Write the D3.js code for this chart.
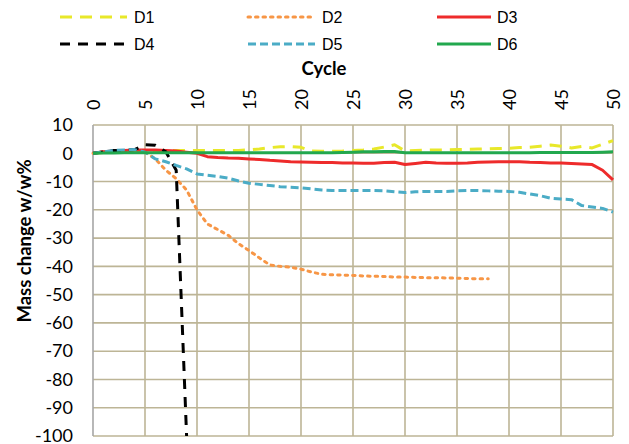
<!DOCTYPE html>
<html>
<head>
<meta charset="utf-8">
<script src="https://cdn.jsdelivr.net/npm/d3@7"></script>
<style>
  body { margin: 0; background: white; }
  text { font-family: Lato, "Liberation Sans", sans-serif; }
</style>
</head>
<body>
<div id="chart"></div>
<script>
// data, one value per cycle
var seriesNames = ["D1", "D2", "D3", "D4", "D5", "D6"];
var d1 = [0, 0.3, 0.5, 0.6, 0.7, 0.8, 1, 1, 1, 1, 1, 1, 1, 1, 1, 1.2, 1.5, 2, 2.3, 2.4,
  2.1, 0.8, 0.7, 0.7, 0.8, 1, 1.2, 1.5, 2.2, 3, 0.8, 1, 1.1, 1.2, 1.2, 1.3, 1.4, 1.5, 1.6, 1.7,
  1.8, 2, 2.1, 2.5, 2.9, 2.5, 1.9, 2.4, 1.9, 3.2, 4.5];
var d2 = [0, 0.5, 0.8, 1, 1, 0.5, -2, -6, -9, -13, -20, -25, -27, -29, -32, -34.4, -37, -39.5, -40, -40.3,
  -41, -42, -42.8, -43, -43.1, -43.2, -43.4, -43.5, -43.6, -43.8, -43.8, -43.9, -44, -44, -44.1, -44.2, -44.3, -44.4, -44.4];
var d3s = [0, 0.5, 0.8, 1, 1.2, 1.2, 1.2, 1, 0.8, 0.4, 0, -1.2, -1.5, -1.7, -1.8, -2, -2.2, -2.5, -2.7, -3,
  -3.1, -3.2, -3.3, -3.3, -3.4, -3.4, -3.5, -3.5, -3.3, -3.2, -4, -3.6, -3.2, -3.4, -3.5, -3.5, -3.4, -3.2, -3.1, -3,
  -3, -3, -3.2, -3.3, -3.4, -3.4, -3.6, -3.8, -4, -6, -9.4];
var d4 = [0, 0.5, 1, 1, 1.3, 3, 2.8, 0.5, -6, -100];
var d5 = [0, 0.5, 1, 1.2, 1.3, 0.4, -2, -3, -4.3, -5.5, -7.3, -7.8, -8.2, -8.8, -9.8, -10.6, -11, -11.4, -11.8, -12,
  -12.2, -12.6, -13, -13.2, -13.2, -13.2, -13.2, -13.2, -13.3, -13.6, -13.9, -13.6, -13.5, -13.5, -13.5, -13.3, -13.2, -13.2, -13.3, -13.4,
  -13.5, -13.8, -14.4, -15, -15.9, -16.2, -16.4, -18.5, -19, -19.5, -20.8];
var d6 = [0, 0.1, 0.1, 0.2, 0.2, 0.2, 0.2, 0.2, 0.2, 0.2, 0.2, 0.2, 0.2, 0.2, 0.2, 0.2, 0.2, 0.2, 0.2, 0.2,
  0.2, 0.2, 0.2, 0.2, 0.3, 0.4, 0.5, 0.5, 0.6, 0.6, 0.2, 0.2, 0.2, 0.2, 0.2, 0.2, 0.2, 0.2, 0.2, 0.2,
  0.2, 0.2, 0.2, 0.3, 0.3, 0.3, 0.3, 0.3, 0.3, 0.4, 0.5];
var xTicks = [0, 5, 10, 15, 20, 25, 30, 35, 40, 45, 50];
var yTicks = [10, 0, -10, -20, -30, -40, -50, -60, -70, -80, -90, -100];

var allSeries = [d1, d2, d3s, d4, d5, d6];
var colors = ["#E8E82A", "#F79646", "#EE2B2B", "#000000", "#4BACC6", "#22A84E"];
var dashes = ["12,8", "2.5,5", null, "10,8", "8,4", null];
var widths = [3, 3, 3, 3, 3, 3];

var width = 629, height = 444;
var svg = d3.select("#chart").append("svg")
  .attr("width", width)
  .attr("height", height);

var x = d3.scaleLinear().domain([0, 50]).range([93, 613]);
var y = d3.scaleLinear().domain([-100, 10]).range([436, 125]);

//gridlines
var gridColor = "#BDB596";
svg.append("g").selectAll("line.v")
  .data(xTicks.slice(1))
  .enter().append("line")
  .attr("x1", function(d){ return x(d); })
  .attr("x2", function(d){ return x(d); })
  .attr("y1", y(10))
  .attr("y2", y(-100))
  .style("stroke", gridColor)
  .style("stroke-width", 1.6);
svg.append("g").selectAll("line.h")
  .data(yTicks)
  .enter().append("line")
  .attr("x1", x(0))
  .attr("x2", x(50))
  .attr("y1", function(d){ return y(d); })
  .attr("y2", function(d){ return y(d); })
  .style("stroke", gridColor)
  .style("stroke-width", 1.6);

// left axis line
svg.append("line")
  .attr("x1", x(0)).attr("x2", x(0))
  .attr("y1", y(10)).attr("y2", y(-100))
  .style("stroke", "#A6A6A6")
  .style("stroke-width", 1.6);

// y tick labels
svg.append("g").selectAll("text")
  .data(yTicks)
  .enter().append("text")
  .attr("x", 73)
  .attr("y", function(d){ return y(d); })
  .attr("dy", "0.35em")
  .attr("text-anchor", "end")
  .style("font-size", "18px")
  .text(function(d){ return d; });

// top tick labels, rotated
svg.append("g").selectAll("text")
  .data(xTicks)
  .enter().append("text")
  .attr("transform", function(d){ return "translate(" + (x(d) + 1) + ",110) rotate(-90)"; })
  .attr("dy", "0.35em")
  .attr("text-anchor", "start")
  .style("font-size", "18px")
  .text(function(d){ return d; });

// axis titles
svg.append("text")
  .attr("x", 324)
  .attr("y", 75)
  .attr("text-anchor", "middle")
  .style("font-size", "18.5px")
  .style("font-weight", "bold")
  .text("Cycle");
svg.append("text")
  .attr("transform", "translate(31,241) rotate(-90)")
  .attr("text-anchor", "middle")
  .style("font-size", "18.5px")
  .style("font-weight", "bold")
  .text("Mass change w/w%");

// series lines
var line = d3.line()
  .x(function(d, i){ return x(i); })
  .y(function(d){ return y(d); });

svg.append("g").selectAll("path")
  .data(allSeries)
  .enter().append("path")
  .attr("d", function(d){ return line(d); })
  .style("fill", "none")
  .style("stroke", function(d, i){ return colors[i]; })
  .style("stroke-width", function(d, i){ return widths[i]; })
  .style("stroke-dasharray", function(d, i){ return dashes[i]; })
  .style("stroke-linecap", function(d, i){ return i == 1 ? "round" : "butt"; })
  .style("stroke-linejoin", "round");

// legend
var legendX = [60, 248, 437];
var legendY = [17, 44];
var legend = svg.append("g").selectAll("g")
  .data(seriesNames)
  .enter().append("g")
  .attr("transform", function(d, i){ return "translate(" + legendX[i % 3] + "," + legendY[Math.floor(i / 3)] + ")"; });
legend.append("line")
  .attr("x1", 0)
  .attr("x2", function(d, i){ return i % 3 == 2 ? 54 : 67; })
  .attr("y1", 0).attr("y2", 0)
  .style("stroke", function(d, i){ return colors[i]; })
  .style("stroke-width", 3)
  .style("stroke-dasharray", function(d, i){ return dashes[i]; })
  .style("stroke-linecap", function(d, i){ return i == 1 ? "round" : "butt"; });
legend.append("text")
  .attr("x", function(d, i){ return i % 3 == 2 ? 60 : 74; })
  .attr("dy", "0.35em")
  .style("font-family", "'Liberation Sans', Arial, sans-serif")
  .style("font-size", "16px")
  .text(function(d){ return d; });
</script>
</body>
</html>
